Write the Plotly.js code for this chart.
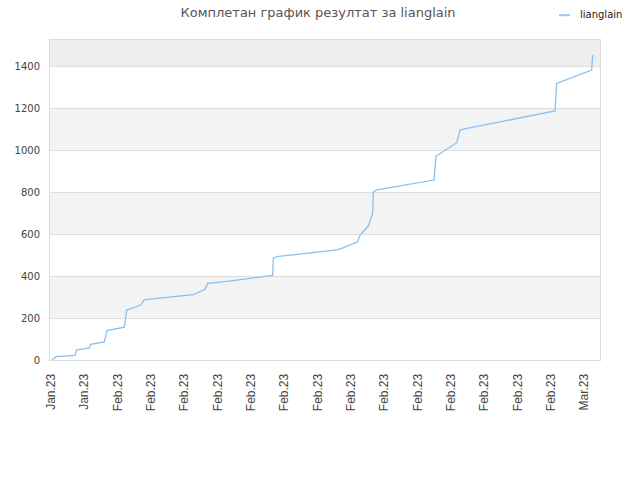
<!DOCTYPE html>
<html><head><meta charset="utf-8">
<script src="https://cdn.plot.ly/plotly-3.0.1.min.js"></script>
<style>html,body{margin:0;padding:0;background:#fff}#chart{width:640px;height:480px}</style>
</head><body><div id="chart"></div>
<script>
// x positions in tick-step units (tick i sits at i)
const xPos = [0.03,0.10,0.15,0.72,0.77,1.15,1.19,1.60,1.68,2.20,2.27,2.70,2.79,2.97,4.27,4.62,4.70,5.22,6.65,6.67,6.77,8.57,8.72,9.20,9.27,9.52,9.65,9.67,9.77,11.49,11.55,11.65,12.17,12.27,12.37,15.12,15.17,16.22,16.25];
const scores = [0,8,16,22,48,56,75,86,140,156,238,262,286,290,311,337,365,373,403,484,492,524,532,563,595,638,698,801,810,857,971,981,1035,1095,1100,1186,1317,1381,1452];
const tickLabels = ["Jan.23","Jan.23","Feb.23","Feb.23","Feb.23","Feb.23","Feb.23","Feb.23","Feb.23","Feb.23","Feb.23","Feb.23","Feb.23","Feb.23","Feb.23","Feb.23","Mar.23"];
const yTicks = [0,200,400,600,800,1000,1200,1400];
const seriesName = "lianglain";
const titleText = "Комплетан график резултат за lianglain";

const yMax = 1524;
const shapes = [];
for (let i = 0; i < yTicks.length; i++) {
  const lo = yTicks[i];
  const hi = i + 1 < yTicks.length ? yTicks[i + 1] : yMax;
  if (i % 2 === 1) {
    shapes.push({type:'rect', xref:'paper', yref:'y', x0:0, x1:1, y0:lo, y1:hi,
      fillcolor: hi === yMax ? '#eeeeee' : '#f3f3f3', line:{width:0}, layer:'below'});
  }
}
// legend sample line
shapes.push({type:'line', xref:'paper', yref:'paper', x0:0.9255, x1:0.9455, y0:1.0775, y1:1.0775,
  line:{color:'#9cc8f4', width:2}});

const trace = {x: xPos, y: scores, type:'scatter', mode:'lines', name: seriesName,
  line:{color:'#8cbff0', width:1.3}, showlegend:false};

const layout = {
  width:640, height:480,
  margin:{l:50, r:40, t:40, b:120},
  paper_bgcolor:'#fff', plot_bgcolor:'#fff',
  font:{family:'Liberation Sans, Arial, sans-serif', size:11, color:'#444'},
  title:{text:titleText, x:0.497, xanchor:'center', y:0.975, yanchor:'middle', yref:'container',
    font:{family:'DejaVu Sans, sans-serif', size:13, color:'#555'}},
  xaxis:{range:[-0.03,16.47], tickmode:'array', tickvals:tickLabels.map((_,i)=>i), ticktext:tickLabels,
    tickangle:-90, showgrid:false, zeroline:false, showline:true, mirror:true, linecolor:'#dcdcdc', linewidth:1,
    ticks:'outside', ticklen:8, tickcolor:'rgba(0,0,0,0)', tickfont:{family:'Liberation Sans, Arial, sans-serif', size:12, color:'#444'}, fixedrange:true},
  yaxis:{range:[0,yMax], tickmode:'array', tickvals:yTicks, showgrid:true, gridcolor:'#dedede', gridwidth:1,
    zeroline:false, showline:true, mirror:true, linecolor:'#dcdcdc', linewidth:1,
    ticks:'outside', ticklen:7, tickcolor:'rgba(0,0,0,0)', tickfont:{family:'DejaVu Sans, sans-serif', size:10, color:'#444'}, fixedrange:true},
  shapes: shapes,
  annotations:[{text:seriesName, xref:'paper', yref:'paper', x:0.96, y:1.081, xanchor:'left', yanchor:'middle',
    showarrow:false, font:{family:'DejaVu Sans, sans-serif', size:10, color:'#222'}}]
};
Plotly.newPlot('chart', [trace], layout, {displayModeBar:false, staticPlot:true});
</script></body></html>
